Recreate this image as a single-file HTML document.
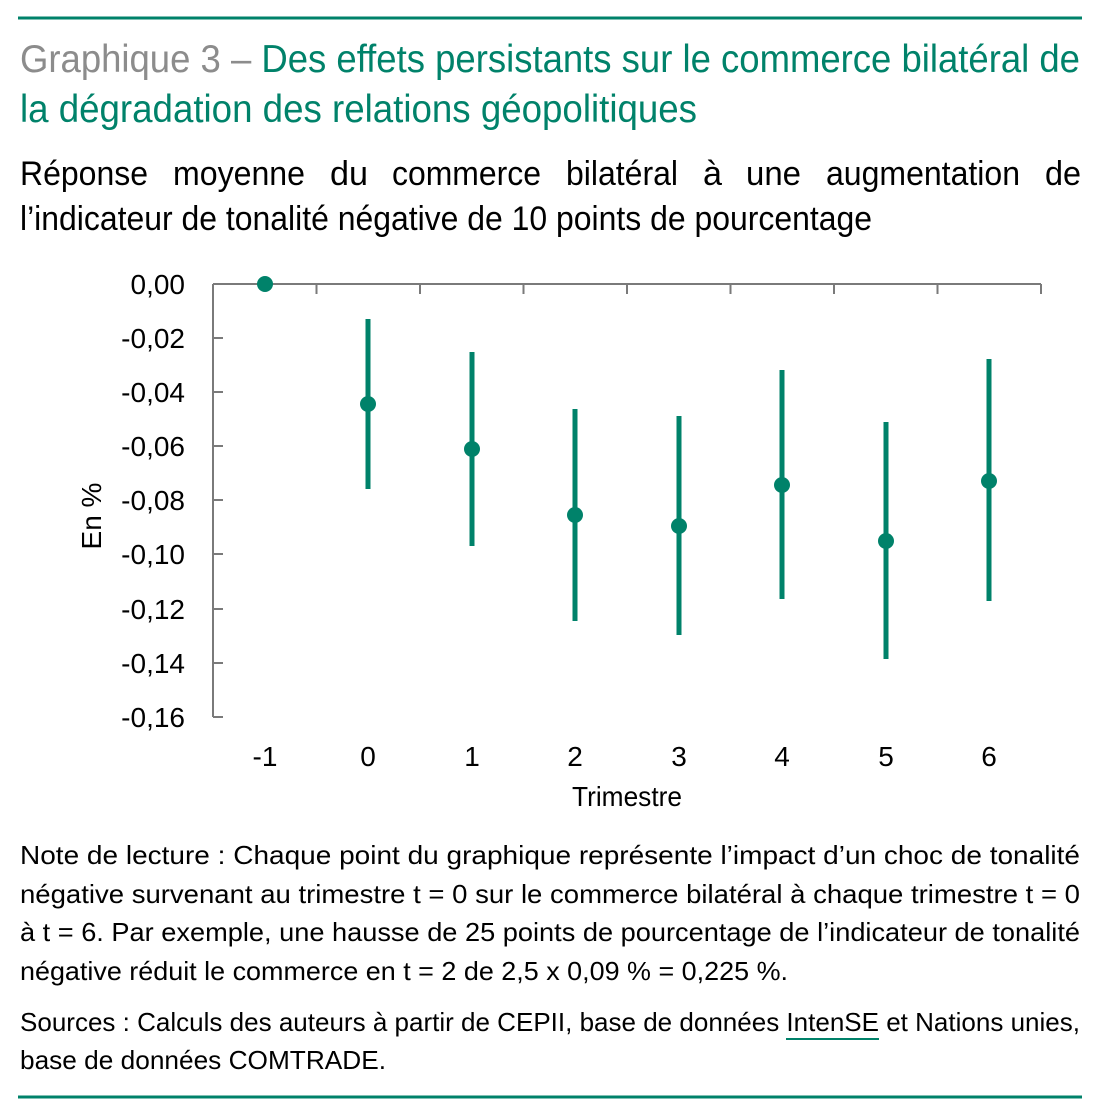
<!DOCTYPE html>
<html><head><meta charset="utf-8"><style>html,body{margin:0;padding:0;background:#fff}svg{display:block}text{font-family:"Liberation Sans",sans-serif}</style></head><body>
<svg width="1102" height="1110" viewBox="0 0 1102 1110" xmlns="http://www.w3.org/2000/svg">
<rect x="18" y="16.5" width="1064" height="3" fill="#00826a"/>
<rect x="18" y="1095.5" width="1064" height="3" fill="#00826a"/>
<text x="20" y="72" font-size="39" textLength="1060" lengthAdjust="spacingAndGlyphs"><tspan fill="#8c8c8c">Graphique 3 – </tspan><tspan fill="#00826a">Des effets persistants sur le commerce bilatéral de</tspan></text>
<text x="20" y="122" font-size="39" fill="#00826a" textLength="677" lengthAdjust="spacingAndGlyphs">la dégradation des relations géopolitiques</text>
<g font-size="34" fill="#000">
<text x="20" y="185" textLength="128" lengthAdjust="spacingAndGlyphs">Réponse</text>
<text x="173" y="185" textLength="132" lengthAdjust="spacingAndGlyphs">moyenne</text>
<text x="330" y="185" textLength="38" lengthAdjust="spacingAndGlyphs">du</text>
<text x="392" y="185" textLength="149" lengthAdjust="spacingAndGlyphs">commerce</text>
<text x="566" y="185" textLength="112" lengthAdjust="spacingAndGlyphs">bilatéral</text>
<text x="703" y="185" textLength="19" lengthAdjust="spacingAndGlyphs">à</text>
<text x="746" y="185" textLength="55" lengthAdjust="spacingAndGlyphs">une</text>
<text x="826" y="185" textLength="194" lengthAdjust="spacingAndGlyphs">augmentation</text>
<text x="1045" y="185" textLength="36" lengthAdjust="spacingAndGlyphs">de</text>
</g>
<text x="20" y="230" font-size="34" fill="#000" textLength="852" lengthAdjust="spacingAndGlyphs">l’indicateur de tonalité négative de 10 points de pourcentage</text>
<g stroke="#7a7a7a" stroke-width="2" fill="none">
<path d="M213 284V717M213 284H1041"/>
<path d="M213 338h10M213 392h10M213 446h10M213 500h10M213 554h10M213 609h10M213 663h10M213 717h10"/>
<path d="M316.5 284v10M420 284v10M523.5 284v10M627 284v10M730.5 284v10M834 284v10M937.5 284v10M1041 284v10"/>
</g>
<g font-size="28" fill="#000" text-anchor="end">
<text x="185" y="294">0,00</text><text x="185" y="348">-0,02</text><text x="185" y="402">-0,04</text><text x="185" y="456">-0,06</text><text x="185" y="510">-0,08</text><text x="185" y="564">-0,10</text><text x="185" y="619">-0,12</text><text x="185" y="673">-0,14</text><text x="185" y="727">-0,16</text>
</g>
<g font-size="28" fill="#000" text-anchor="middle">
<text x="265" y="766">-1</text><text x="368" y="766">0</text><text x="472" y="766">1</text><text x="575" y="766">2</text><text x="679" y="766">3</text><text x="782" y="766">4</text><text x="886" y="766">5</text><text x="989" y="766">6</text>
<text x="627" y="806" textLength="110" lengthAdjust="spacingAndGlyphs">Trimestre</text>
<text transform="translate(101,516) rotate(-90)">En %</text>
</g>
<g stroke="#00826a" stroke-width="5">
<path d="M368 319V489M472 352V546M575 409V621M679 416V635M782 370V599M886 422V659M989 359V601"/>
</g>
<g fill="#00826a">
<circle cx="265" cy="284" r="8"/><circle cx="368" cy="404" r="8"/><circle cx="472" cy="449" r="8"/><circle cx="575" cy="515" r="8"/><circle cx="679" cy="526" r="8"/><circle cx="782" cy="485" r="8"/><circle cx="886" cy="541" r="8"/><circle cx="989" cy="481" r="8"/>
</g>
<g font-size="26" fill="#000">
<text x="20" y="864" textLength="1060" lengthAdjust="spacingAndGlyphs">Note de lecture : Chaque point du graphique représente l’impact d’un choc de tonalité</text>
<text x="20" y="903" textLength="1060" lengthAdjust="spacingAndGlyphs">négative survenant au trimestre t = 0 sur le commerce bilatéral à chaque trimestre t = 0</text>
<text x="20" y="941" textLength="1060" lengthAdjust="spacingAndGlyphs">à t = 6. Par exemple, une hausse de 25 points de pourcentage de l’indicateur de tonalité</text>
<text x="20" y="980" textLength="768" lengthAdjust="spacingAndGlyphs">négative réduit le commerce en t = 2 de 2,5 x 0,09 % = 0,225 %.</text>
<text x="20" y="1031" textLength="1060" lengthAdjust="spacingAndGlyphs">Sources : Calculs des auteurs à partir de CEPII, base de données IntenSE et Nations unies,</text>
<text x="20" y="1069" textLength="366" lengthAdjust="spacingAndGlyphs">base de données COMTRADE.</text>
</g>
<rect x="786" y="1038" width="93" height="2" fill="#00826a"/>
</svg>
</body></html>
